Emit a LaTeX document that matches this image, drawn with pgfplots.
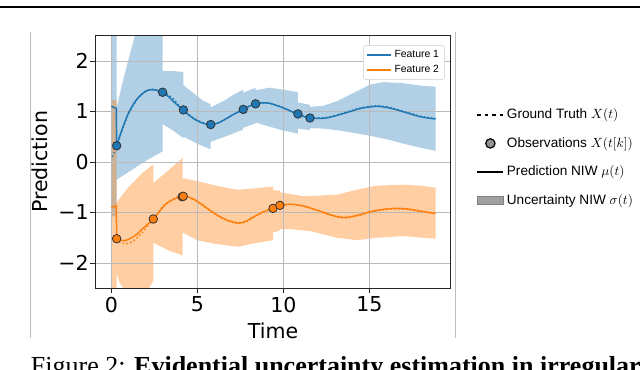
\documentclass[border=0pt]{standalone}
\usepackage{fontspec}
\usepackage{pgfplots}
\pgfplotsset{compat=1.18}
\newfontfamily\dejavu{DejaVu Sans}
\newfontfamily\arial{Liberation Sans}
\newfontfamily\capfont{Liberation Serif}
\definecolor{mplblue}{RGB}{31,119,180}
\definecolor{mplorange}{RGB}{255,127,14}
\definecolor{mkedge}{RGB}{50,50,50}

\begin{document}
\begin{tikzpicture}
\begin{axis}[
  at={(71.5pt,61.35pt)}, anchor=south west,
  width=266.5pt, height=189.4pt, scale only axis,
  set layers, clip mode=individual,
  xmin=-0.93, xmax=19.73, ymin=-2.5, ymax=2.5,
  xtick={0,5,10,15}, xticklabels={0,5,10,15},
  ytick={-2,-1,0,1,2}, yticklabels={−2,−1,0,1,2},
  tick align=outside, tick pos=left, major tick length=3.8pt,
  tick style={black!85, line width=0.6pt},
  ticklabel style={font=\dejavu\fontsize{15.4}{18}\selectfont},
  yticklabel style={inner sep=1pt},
  xticklabel style={inner sep=2.5pt},
  grid=major, major grid style={black!27, line width=0.6pt},
  axis line style={black!85, line width=0.7pt},
  xlabel={Time}, ylabel={Prediction},
  label style={font=\dejavu\fontsize{15.4}{18}\selectfont},
  xlabel style={at={(axis description cs:0.5,0)}, anchor=north, inner sep=0pt, yshift=-25.8pt},
  ylabel style={at={(axis description cs:-0.156,0.5)}, anchor=center, inner sep=0pt},
  legend style={at={(0.983,0.963)}, anchor=north east, draw=black!20, rounded corners=2pt,
    fill=white, inner sep=2pt, row sep=0pt,
    font=\arial\fontsize{7.8}{9.4}\selectfont},
  legend cell align=left,
  legend image code/.code={\draw[#1] (0pt,0pt) -- (18pt,0pt);},
]
% uncertainty bands (mean +/- sigma)
\addplot[on layer=axis background, draw=none, fill=mplblue, fill opacity=0.35, forget plot] coordinates {
(0,3.5) (0.31,3.5) (0.31,1.07) (0.6,1.50) (1.0,2.03) (1.37,2.50) (2.0,3.2) (2.98,3.5)
(2.98,1.80) (3.6,1.80) (4.19,1.78) (4.19,1.52) (4.86,1.34) (5.3,1.22) (5.78,1.14)
(5.78,1.08) (6.6,1.22) (7.2,1.35) (7.67,1.43) (7.67,1.37) (8.39,1.47) (8.39,1.42)
(9.2,1.47) (10.0,1.43) (10.85,1.38) (10.85,1.18) (11.55,1.13) (11.55,1.09) (12.3,1.11)
(13.1,1.20) (14.1,1.37) (15.05,1.53) (15.8,1.58) (16.96,1.56) (18.0,1.51) (18.85,1.49)
(18.85,0.22) (18.0,0.28) (17.0,0.36) (16.0,0.45) (15.0,0.52) (14.0,0.58) (13.1,0.63)
(12.3,0.66) (11.55,0.67) (11.55,0.63) (10.85,0.66) (10.85,0.56) (10.0,0.62) (9.2,0.70)
(8.39,0.78) (8.39,0.76) (7.67,0.68) (7.67,0.64) (6.6,0.50) (5.78,0.40) (5.78,0.25)
(5.0,0.36) (4.19,0.50) (4.19,0.47) (3.6,0.62) (2.98,0.75) (2.98,0.21) (2.0,0.02)
(1.0,-0.20) (0.31,-0.35) (0.31,-1.08) (0,-1.08)
};
\addplot[on layer=axis background, draw=none, fill=mplorange, fill opacity=0.38, forget plot] coordinates {
(0,1.23) (0.31,1.23) (0.31,-0.80) (1.0,-0.50) (1.8,-0.22) (2.44,-0.05) (2.44,-0.42)
(3.3,-0.17) (4.15,0.08) (4.15,-0.32) (5.0,-0.38) (5.83,-0.45) (6.8,-0.52) (7.38,-0.55)
(8.16,-0.53) (9.0,-0.50) (9.4,-0.49) (9.4,-0.56) (9.8,-0.57) (9.8,-0.60) (11.2,-0.68)
(13.1,-0.65) (14.3,-0.55) (15.4,-0.47) (16.96,-0.45) (18.0,-0.47) (18.85,-0.51)
(18.85,-1.52) (17.0,-1.47) (15.4,-1.50) (14.3,-1.55) (13.1,-1.50) (11.55,-1.37)
(10.4,-1.33) (9.8,-1.33) (9.8,-1.36) (9.4,-1.40) (9.4,-1.55) (8.16,-1.62) (7.38,-1.68)
(6.0,-1.62) (5.0,-1.55) (4.15,-1.40) (4.15,-1.85) (3.3,-1.75) (2.44,-1.60) (2.44,-2.35)
(2.2,-2.50) (1.8,-2.60) (1.2,-2.62) (0.8,-2.55) (0.5,-2.40) (0.31,-2.22) (0.31,-3.0) (0,-3.0)
};
% ground truth (dotted)
\addplot[mplblue, line width=1.1pt, dash pattern=on 1.1pt off 1.8pt, smooth, forget plot] coordinates {
(0.05,0.10) (0.15,0.17) (0.31,0.30) (0.6,0.60) (1.0,0.95) (1.5,1.24) (2.0,1.40) (2.4,1.44)
(2.7,1.42) (3.0,1.38) (3.3,1.33) (3.6,1.25) (3.9,1.13) (4.2,1.03) (4.5,0.94) (4.86,0.85)
(5.3,0.78) (5.78,0.74) (6.2,0.77) (6.6,0.84) (7.1,0.94) (7.67,1.04) (8.0,1.10) (8.39,1.15)
(8.8,1.17) (9.22,1.16) (9.6,1.12) (10.0,1.07) (10.4,1.01) (10.85,0.95) (11.2,0.90)
(11.55,0.87) (12.0,0.87) (12.5,0.88) (13.0,0.92) (13.5,0.97) (14.0,1.02) (14.5,1.07)
(15.05,1.10) (15.5,1.11) (16.0,1.09) (16.5,1.05) (17.0,1.00) (17.4,0.96) (17.9,0.91)
(18.4,0.88) (18.85,0.86)
};
\addplot[mplorange, line width=1.1pt, dash pattern=on 1.1pt off 1.8pt, smooth, forget plot] coordinates {
(0.31,-1.52) (0.5,-1.59) (0.8,-1.62) (1.1,-1.60) (1.4,-1.53) (1.8,-1.40) (2.1,-1.27)
(2.44,-1.13) (2.8,-0.97) (3.12,-0.84) (3.5,-0.75) (3.85,-0.70) (4.15,-0.68) (4.5,-0.70)
(4.86,-0.76) (5.3,-0.86) (5.83,-0.99) (6.3,-1.09) (6.8,-1.17) (7.38,-1.22) (7.8,-1.19)
(8.16,-1.12) (8.7,-1.02) (9.36,-0.92) (9.81,-0.86) (10.4,-0.84) (11.0,-0.86) (11.55,-0.91)
(12.1,-0.98) (12.7,-1.05) (13.1,-1.09) (13.58,-1.11) (14.0,-1.09) (14.5,-1.05) (15.0,-1.00)
(15.42,-0.97) (16.0,-0.94) (16.6,-0.93) (17.2,-0.94) (17.75,-0.97) (18.3,-1.00) (18.85,-1.03)
};
% predicted mean
\addplot[mplblue, line width=1.1pt, forget plot] coordinates {(0,1.10) (0.29,1.06) (0.31,0.32)};
\addplot[mplorange, line width=1.1pt, forget plot] coordinates {(0,-0.90) (0.29,-0.87) (0.31,-1.52)};
\addplot[mplblue, line width=1.1pt, smooth, tension=0.5, forget plot] coordinates {
(0.31,0.32) (0.6,0.62) (1.0,0.97) (1.5,1.25) (2.0,1.40) (2.35,1.43) (2.7,1.41) (2.98,1.37)
(3.3,1.30) (3.6,1.20) (3.9,1.11) (4.19,1.02) (4.5,0.93) (4.86,0.84) (5.3,0.77) (5.78,0.74)
(6.2,0.77) (6.6,0.84) (7.1,0.94) (7.67,1.04) (8.0,1.10) (8.39,1.15) (8.8,1.17) (9.22,1.16)
(9.6,1.12) (10.0,1.07) (10.4,1.01) (10.85,0.95) (11.2,0.90) (11.55,0.87) (12.0,0.86)
(12.5,0.87) (13.0,0.91) (13.5,0.96) (14.0,1.01) (14.5,1.06) (15.05,1.09) (15.5,1.10)
(16.0,1.08) (16.5,1.04) (17.0,0.99) (17.4,0.95) (17.9,0.90) (18.4,0.87) (18.85,0.85)
};
\addplot[mplorange, line width=1.1pt, smooth, tension=0.5, forget plot] coordinates {
(0.31,-1.52) (0.55,-1.55) (0.8,-1.56) (1.18,-1.50) (1.5,-1.43) (1.76,-1.34) (2.1,-1.24)
(2.44,-1.13) (2.8,-0.98) (3.12,-0.85) (3.5,-0.76) (3.85,-0.71) (4.15,-0.69) (4.5,-0.70)
(4.86,-0.75) (5.3,-0.85) (5.83,-0.98) (6.3,-1.08) (6.8,-1.16) (7.38,-1.21) (7.8,-1.18)
(8.16,-1.11) (8.7,-1.01) (9.36,-0.92) (9.81,-0.86) (10.4,-0.84) (11.0,-0.86) (11.55,-0.91)
(12.1,-0.97) (12.7,-1.04) (13.1,-1.08) (13.58,-1.10) (14.0,-1.08) (14.5,-1.04) (15.0,-0.99)
(15.42,-0.96) (16.0,-0.93) (16.6,-0.92) (17.2,-0.93) (17.75,-0.96) (18.3,-0.99) (18.85,-1.02)
};
% observations
\addplot[only marks, mark=*, mark size=3.2pt, mark options={fill=mplblue, draw=mkedge, line width=0.6pt}, forget plot] coordinates {
(0.31,0.32) (2.98,1.38) (4.19,1.03) (5.78,0.74) (7.67,1.04) (8.39,1.15) (10.85,0.95) (11.55,0.87)
};
\addplot[only marks, mark=*, mark size=3.2pt, mark options={fill=mplorange, draw=mkedge, line width=0.6pt}, forget plot] coordinates {
(0.31,-1.52) (2.44,-1.13) (4.12,-0.69) (4.18,-0.68) (9.4,-0.92) (9.8,-0.86)
};
\addlegendimage{draw={rgb,255:red,31;green,119;blue,180}, line width=1.2pt}
\addlegendentry{Feature 1}
\addlegendimage{draw={rgb,255:red,255;green,127;blue,14}, line width=1.2pt}
\addlegendentry{Feature 2}
\end{axis}

% outer legend
\begin{axis}[
  at={(71.5pt,61.35pt)}, anchor=south west,
  width=266.5pt, height=189.4pt, scale only axis,
  hide axis, xmin=0, xmax=1, ymin=0, ymax=1,
  legend style={at={(1.072,0.7216)}, anchor=north west, draw=none, fill=none,
    inner sep=0pt, row sep=8.4pt, font=\arial\fontsize{10.2}{12}\selectfont},
  legend cell align=left,
]
\addplot[draw=none, forget plot] coordinates {(0,0) (1,1)};
\addlegendimage{legend image code/.code={\draw[black, line width=1.3pt, dash pattern=on 2.4pt off 3.2pt] (0pt,0pt) -- (19.5pt,0pt);}}
\addlegendentry{Ground Truth $X(t)$}
\addlegendimage{legend image code/.code={\draw[fill=gray!85, draw=black, line width=0.9pt] (9.75pt,0pt) circle (3.5pt);}}
\addlegendentry{Observations $X(t[k])$}
\addlegendimage{legend image code/.code={\draw[black, line width=1.3pt] (0pt,0pt) -- (19.5pt,0pt);}}
\addlegendentry{Prediction NIW $\mu(t)$}
\addlegendimage{legend image code/.code={\draw[fill=gray!75, draw=gray, line width=0.4pt] (0pt,-3pt) rectangle (19.5pt,3pt);}}
\addlegendentry{Uncertainty NIW $\sigma(t)$}
\end{axis}

% page rule, panel edges, caption start
\draw[black, line width=1.4pt] (0pt,272pt) -- (480pt,272pt);
\draw[black!25, line width=0.5pt] (23pt,253.5pt) -- (23pt,24pt);
\draw[black!25, line width=0.5pt] (341.5pt,253.5pt) -- (341.5pt,24pt);
\node[anchor=base west, inner sep=0pt, font=\capfont\fontsize{19.5}{23}\selectfont] at (23pt,-3.3pt)
  {Figure 2: \textbf{Evidential uncertainty estimation in irregular}};
\pgfresetboundingbox
\path[use as bounding box] (0pt,0pt) rectangle (480pt,277.5pt);
\end{tikzpicture}
\end{document}
